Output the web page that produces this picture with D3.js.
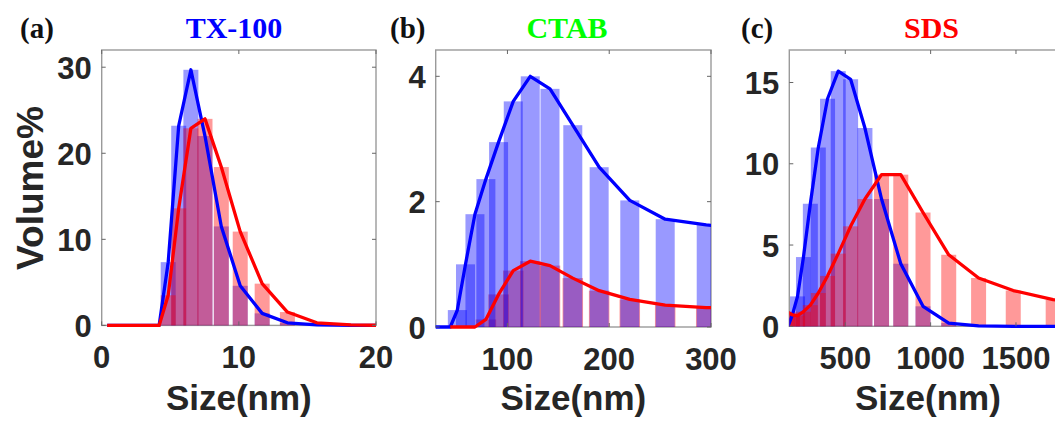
<!DOCTYPE html>
<html><head><meta charset="utf-8">
<script src="https://cdn.jsdelivr.net/npm/d3@7"></script>
<style>body{margin:0;background:#fff;} svg{display:block;}</style>
</head><body>
<svg id="chart" width="1055" height="423"></svg>
<script>
// ---- data (sizes in nm, values in Volume%) ----
const sizesA = [0.4,0.4632,0.5365,0.6213,0.7195,0.8332,0.9649,1.117,1.294,1.499,1.736,2.01,2.328,2.696,3.122,3.615,4.187,4.849,5.615,6.503,7.531,8.721,10.1,11.7,13.54,15.69,18.17,21.04];
const blueA  = [0,0,0,0,0,0,0,0,0,0,0,0,0,0,0,0,0,7.35,23.2,29.7,22.0,11.5,4.6,1.4,0.3,0.05,0,0];
const redA   = [0,0,0,0,0,0,0,0,0,0,0,0,0,0,0,0,0,3.5,13.6,22.9,24.0,18.4,10.9,4.85,1.55,0.3,0.05,0];

const sizesB = [24.36,28.21,32.67,37.84,43.82,50.75,58.77,68.06,78.82,91.28,105.7,122.4,141.8,164.2,190.1,220.2,255.0,295.3,342.0];
const blueB  = [0,0,0,0,0,0.27,1.0,1.8,2.36,2.95,3.6,4.0,3.8,3.22,2.55,2.02,1.72,1.63,1.55];
const redB   = [null,null,null,null,0,0,0,0,0.12,0.52,0.9,1.05,0.98,0.78,0.58,0.44,0.35,0.31,0.3];

const sizesC = [164.2,190.1,220.2,255.0,295.3,342.0,396.1,458.7,531.2,615.1,712.4,825.0,955.4,1106,1281,1484,1718,1990];
const blueC  = [0,0.7,1.84,4.26,7.54,11.0,14.0,15.7,15.2,12.2,7.83,3.85,1.23,0.2,0.02,0,0,0];
const redC   = [0.87,0.7,0.65,0.9,1.3,2.05,3.1,4.47,6.15,7.83,9.33,9.33,7.0,4.4,2.97,2.2,1.64,1.2];

const xTicksA = [0,10,20], yTicksA = [0,10,20,30];
const xTicksB = [100,200,300], yTicksB = [0,2,4];
const xTicksC = [500,1000,1500], yTicksC = [0,5,10,15];

const panelLabels = ["(a)","(b)","(c)"];
const panelTitles = ["TX-100","CTAB","SDS"];
const titleColors = ["#0000ff","#00ff00","#ff0000"];
const xLabel = "Size(nm)", yLabel = "Volume%";

// ---- layout ----
const panels = [
  {sizes:sizesA, blue:blueA, red:redA, xd:[0,20], yd:[0,32], xt:xTicksA, yt:yTicksA,
   box:[101.7,50,376,325.4], wB:15, wR:15, blueOnTop:false, labelX:20, titleX:234},
  {sizes:sizesB, blue:blueB, red:redB, xd:[29.5,300], yd:[0,4.42], xt:xTicksB, yt:yTicksB,
   box:[435.7,50,711,327], wB:19, wR:20.5, blueOnTop:true, labelX:390, titleX:567},
  {sizes:sizesC, blue:blueC, red:redC, xd:[172,1796], yd:[0,17], xt:xTicksC, yt:yTicksC,
   box:[789.3,50,1066.5,326.3], wB:15, wR:15, blueOnTop:false, labelX:741, titleX:931.5}
];

const svg = d3.select("#chart");
const defs = svg.append("defs");
const tickFont = "'Liberation Sans', Arial, Helvetica, sans-serif";
const serif = "'Liberation Serif', 'Times New Roman', serif";

panels.forEach((p, k) => {
  const [x0,y0,x1,y1] = p.box;
  const x = d3.scaleLinear().domain(p.xd).range([x0,x1]);
  const y = d3.scaleLinear().domain(p.yd).range([y1,y0]);
  const g = svg.append("g");

  defs.append("clipPath").attr("id","clip"+k).append("rect")
    .attr("x",x0).attr("y",y0-4).attr("width",x1-x0).attr("height",y1-y0+8);

  // box
  g.append("rect").attr("x",x0).attr("y",y0).attr("width",x1-x0).attr("height",y1-y0)
    .attr("fill","none").attr("stroke","#9a9a9a").attr("stroke-width",1.4);

  const plot = g.append("g").attr("clip-path","url(#clip"+k+")");
  const pts = (vals) => p.sizes.map((s,i)=>({s, v:vals[i]}));

  function bars(vals, color, w) {
    plot.append("g").selectAll("rect").data(pts(vals).filter(d=>d.v!=null && d.v>0)).join("rect")
      .attr("x", d=>x(d.s)-w/2).attr("width", w)
      .attr("y", d=>y(d.v)).attr("height", d=>y(0)-y(d.v))
      .attr("fill", color).attr("fill-opacity", 0.4);
  }
  if (p.blueOnTop) { bars(p.red,"#ff0000",p.wR); bars(p.blue,"#0000ff",p.wB); }
  else { bars(p.blue,"#0000ff",p.wB); bars(p.red,"#ff0000",p.wR); }

  const line = d3.line().defined(d=>d.v!=null).x(d=>x(d.s)).y(d=>y(d.v));
  plot.append("path").datum(pts(p.blue)).attr("d",line)
    .attr("fill","none").attr("stroke","#0000ff").attr("stroke-width",3.3).attr("stroke-linejoin","round");
  plot.append("path").datum(pts(p.red)).attr("d",line)
    .attr("fill","none").attr("stroke","#ff0000").attr("stroke-width",3.3).attr("stroke-linejoin","round");

  // ticks (inward, all four sides)
  const tl = 4;
  p.xt.forEach(t=>{
    const xp = x(t);
    if (xp < x0-0.5 || xp > x1+0.5) return;
    g.append("line").attr("x1",xp).attr("x2",xp).attr("y1",y1).attr("y2",y1-tl).attr("stroke","#666").attr("stroke-width",1);
    g.append("line").attr("x1",xp).attr("x2",xp).attr("y1",y0).attr("y2",y0+tl).attr("stroke","#666").attr("stroke-width",1);
    g.append("text").attr("x",xp).attr("y",y1+43).attr("text-anchor","middle")
      .attr("font-family",tickFont).attr("font-weight","bold").attr("font-size",31).attr("fill","#262626").text(t);
  });
  p.yt.forEach(t=>{
    const yp = y(t);
    g.append("line").attr("x1",x0).attr("x2",x0+tl).attr("y1",yp).attr("y2",yp).attr("stroke","#666").attr("stroke-width",1);
    g.append("line").attr("x1",x1).attr("x2",x1-tl).attr("y1",yp).attr("y2",yp).attr("stroke","#666").attr("stroke-width",1);
    g.append("text").attr("x",x0-10).attr("y",yp+11.5).attr("text-anchor","end")
      .attr("font-family",tickFont).attr("font-weight","bold").attr("font-size",31).attr("fill","#262626").text(t);
  });

  // axis label
  g.append("text").attr("x",(x0+x1)/2).attr("y",410).attr("text-anchor","middle")
    .attr("font-family",tickFont).attr("font-weight","bold").attr("font-size",35).attr("fill","#262626").text(xLabel);

  // panel label and title
  g.append("text").attr("x",p.labelX).attr("y",38).attr("font-family",serif).attr("font-weight","bold")
    .attr("font-size",29).attr("fill","#111").text(panelLabels[k]);
  g.append("text").attr("x",p.titleX).attr("y",38).attr("text-anchor","middle").attr("font-family",serif)
    .attr("font-weight","bold").attr("font-size",30).attr("fill",titleColors[k]).text(panelTitles[k]);
});

svg.append("text").attr("transform","translate(43,188) rotate(-90)").attr("text-anchor","middle")
  .attr("font-family",tickFont).attr("font-weight","bold").attr("font-size",37).attr("fill","#262626").text(yLabel);
</script>
</body></html>
